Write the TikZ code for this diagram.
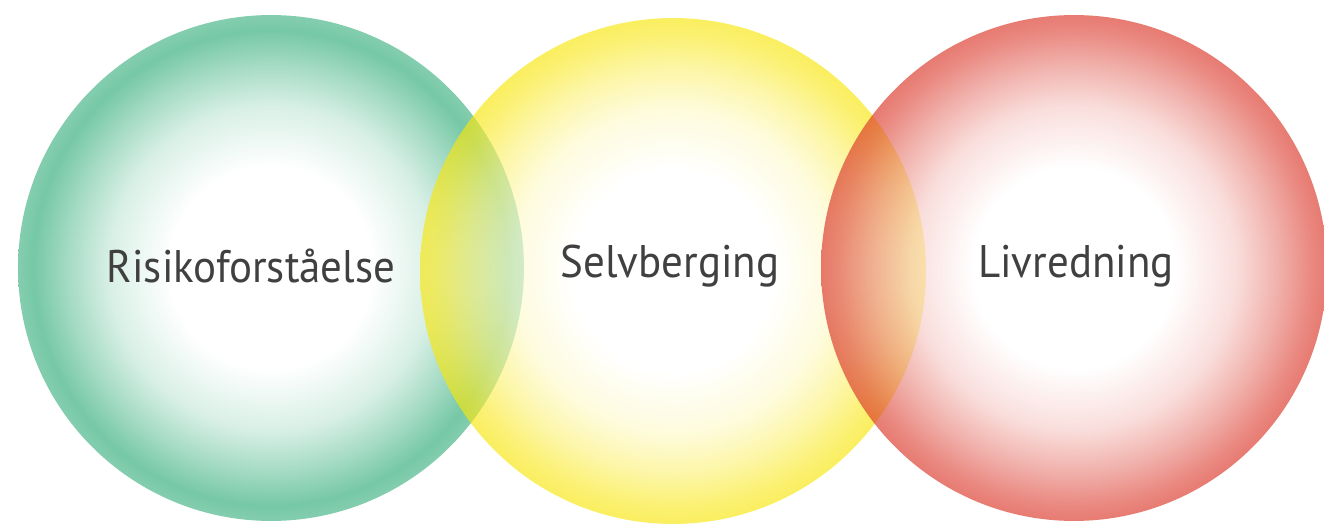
\documentclass[tikz,border=0pt]{standalone}
\usepackage{fontspec}
\newfontfamily\labelfont[FakeStretch=0.94]{PT Sans}
\definecolor{risikogreen}{RGB}{118,200,166}
\definecolor{selvyellow}{RGB}{248,230,10}
\definecolor{livred}{RGB}{218,52,38}
\pgfdeclareradialshading{greenball}{\pgfpoint{0bp}{0bp}}{color(0bp)=(white); color(10bp)=(white); color(16bp)=(risikogreen!28); color(20bp)=(risikogreen!65); color(23.5bp)=(risikogreen); color(25bp)=(risikogreen!90); color(50bp)=(risikogreen!90)}
\pgfdeclareradialshading{yellowball}{\pgfpoint{0bp}{0bp}}{color(0bp)=(white); color(10bp)=(white); color(16bp)=(selvyellow!22); color(20bp)=(selvyellow!55); color(23.5bp)=(selvyellow!90); color(25bp)=(selvyellow); color(50bp)=(selvyellow)}
\pgfdeclareradialshading{redball}{\pgfpoint{0bp}{0bp}}{color(0bp)=(white); color(10bp)=(white); color(16bp)=(livred!25); color(20bp)=(livred!58); color(23.5bp)=(livred!90); color(25bp)=(livred); color(50bp)=(livred)}
\tikzset{
  ball/.style={circle, minimum size=10.12cm, inner sep=0pt},
  ballname/.style={font=\labelfont\fontsize{26}{30}\selectfont, text=black!75}
}
\begin{document}
\begin{tikzpicture}[x=0.02cm, y=0.02cm]
  \useasboundingbox (0,0) rectangle (1324,528);
  \node [ball, shading=greenball] (risiko) at (271,260) {};
  \node [ball, shading=yellowball, opacity=0.65] (selv) at (673,257) {};
  \node [ball, shading=redball, opacity=0.65] (liv) at (1074,260) {};
  % labels
  \node [ballname] (risikotext) at (251,262) {Risikoforståelse};
  \node [ballname] (selvtext) at (670,262) {Selvberging};
  \node [ballname] (livtext) at (1076,262) {Livredning};
\end{tikzpicture}
\end{document}
